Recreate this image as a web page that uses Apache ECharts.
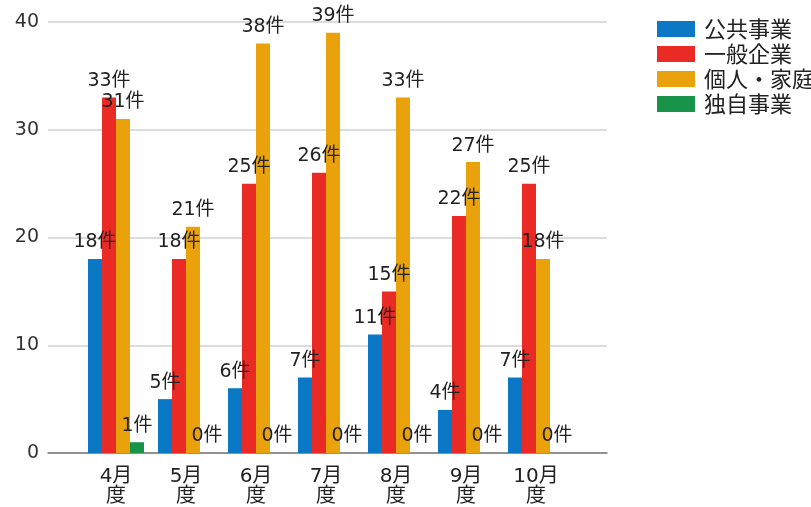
<!DOCTYPE html>
<html><head><meta charset="utf-8">
<script src="https://cdn.jsdelivr.net/npm/echarts@6/dist/echarts.min.js"></script>
<style>html,body{margin:0;padding:0;background:#fff}#c{width:811px;height:507px}</style>
</head><body><div id="c"></div>
<script>
const categories = ['4月\n度','5月\n度','6月\n度','7月\n度','8月\n度','9月\n度','10月\n度'];
const seriesNames = ['公共事業','一般企業','個人・家庭','独自事業'];
const publicWork = [18,5,6,7,11,4,7];
const generalCorp = [33,18,25,26,15,22,25];
const household = [31,21,38,39,33,27,18];
const ownBusiness = [1,0,0,0,0,0,0];
const yTicks = {min:0, max:40, interval:10};
const colors = ['#0b78c6','#ea2a25','#eaa20c','#17934a'];
const FONT = '"DejaVu Sans", "Noto Sans CJK JP", sans-serif';

const chart = echarts.init(document.getElementById('c'));
const labelCfg = {show:true, position:'top', distance:7, fontSize:19, color:'#222', fontFamily:FONT, formatter: p => p.value + '件'};
const dataArr = [publicWork, generalCorp, household, ownBusiness];
chart.setOption({
  animation:false,
  backgroundColor:'#fff',
  color: colors,
  textStyle:{fontFamily:FONT},
  legend:{
    orient:'vertical', left:652, top:13, itemWidth:38, itemHeight:16, itemGap:3,
    icon:'rect', data: seriesNames,
    textStyle:{fontSize:22, color:'#222', fontFamily:'"Noto Sans CJK JP", sans-serif', padding:[0,0,0,4]}
  },
  grid:[
    {left:48, right:204, top:22, bottom:54},
    {left:81, width:490, top:22, bottom:54}
  ],
  xAxis:[
    {gridIndex:0, type:'value', min:0, max:1, axisLine:{show:true, lineStyle:{color:'#7a7a7a', width:1.5}}, axisTick:{show:false}, axisLabel:{show:false}, splitLine:{show:false}},
    {gridIndex:1, type:'category', data:categories, axisLine:{show:false}, axisTick:{show:false},
     axisLabel:{fontSize:20, lineHeight:20, color:'#222', margin:14, fontFamily:FONT}}
  ],
  yAxis:[
    {gridIndex:0, type:'value', min:yTicks.min, max:yTicks.max, interval:yTicks.interval,
     axisLine:{show:false}, axisTick:{show:false},
     axisLabel:{fontSize:19, color:'#333', margin:9, fontFamily:FONT},
     splitLine:{lineStyle:{color:'#cfcfcf', width:1.5}}},
    {gridIndex:1, type:'value', min:yTicks.min, max:yTicks.max, interval:yTicks.interval, show:false, splitLine:{show:false}}
  ],
  series: seriesNames.map((n,i)=>({
    name:n, type:'bar', xAxisIndex:1, yAxisIndex:1, data:dataArr[i],
    barGap:'0%', barCategoryGap:'20%', label:labelCfg
  }))
});
</script></body></html>
